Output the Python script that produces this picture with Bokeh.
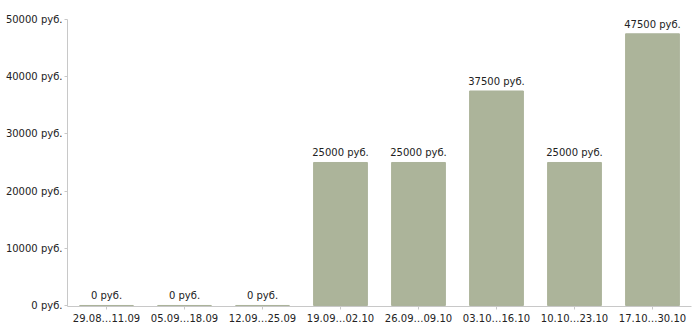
from bokeh.plotting import figure
from bokeh.models import ColumnDataSource, FixedTicker, Range1d
from bokeh.embed import file_html
from bokeh.resources import INLINE
from bokeh.core.properties import value

categories = ["29.08…11.09", "05.09…18.09", "12.09…25.09", "19.09…02.10",
              "26.09…09.10", "03.10…16.10", "10.10…23.10", "17.10…30.10"]
values = [0, 0, 0, 25000, 25000, 37500, 25000, 47500]
y_ticks = [0, 10000, 20000, 30000, 40000, 50000]
y_tick_labels = [f"{t} руб." for t in y_ticks]
bar_labels = [f"{v} руб." for v in values]

src = ColumnDataSource(dict(x=categories, top=values, label=bar_labels))

p = figure(x_range=categories, y_range=Range1d(-175, 51923), width=692, height=326,
           output_backend="svg", toolbar_location=None,
           min_border_left=67, min_border_right=1, min_border_top=8, min_border_bottom=11)
p.x_range.range_padding = 0
p.outline_line_color = None
p.xgrid.visible = False
p.ygrid.visible = False

p.vbar(x="x", top="top", bottom=0, width=0.69, source=src, fill_color="#acb49a",
       line_color="#acb49a", line_width=1)
p.text(x="x", y="top", text="label", source=src, text_align="center",
       text_baseline="bottom", y_offset=-4, text_font=value("DejaVu Sans"),
       text_font_size="10px", text_color="#222222")

for ax in (p.xaxis, p.yaxis):
    ax.axis_line_color = "#c8c8c8"
    ax.major_tick_line_color = "#c8c8c8"
    ax.minor_tick_line_color = None
    ax.major_tick_in = 0
    ax.major_tick_out = 3
    ax.major_label_text_font = "DejaVu Sans"
    ax.major_label_text_font_size = "10px"
    ax.major_label_text_color = "#222222"

p.yaxis.ticker = FixedTicker(ticks=y_ticks)
p.yaxis.major_label_overrides = {t: l for t, l in zip(y_ticks, y_tick_labels)}
p.yaxis.bounds = (-175, 50000)
p.yaxis.major_label_standoff = 2
p.xaxis.major_label_standoff = 3

open("out.html", "w").write(file_html(p, INLINE))
